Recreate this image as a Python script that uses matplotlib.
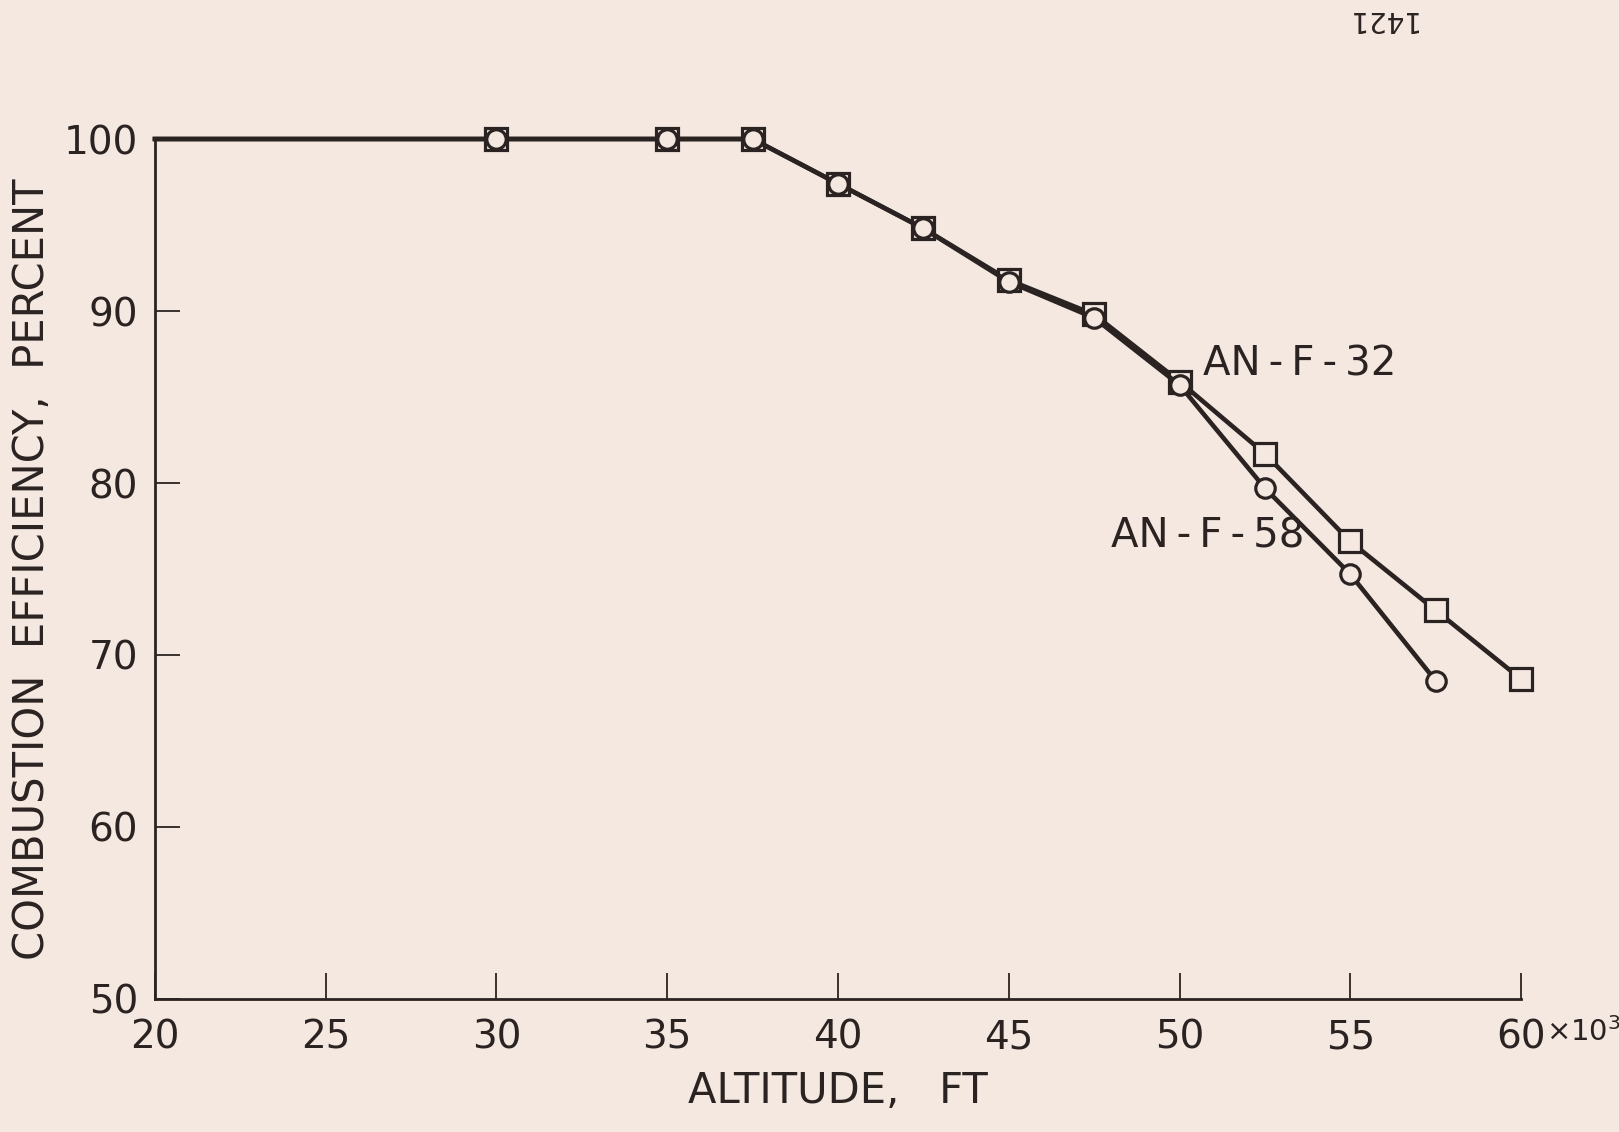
import matplotlib
matplotlib.use("Agg")
import matplotlib.pyplot as plt

# Altitude in thousands of feet
alt_f32 = [20, 30, 35, 37.5, 40, 42.5, 45, 47.5, 50, 52.5, 55, 57.5, 60]
eff_f32 = [100, 100, 100, 100, 97.4, 94.8, 91.8, 89.8, 85.9, 81.7, 76.6, 72.6, 68.6]

alt_f58 = [20, 30, 35, 37.5, 40, 42.5, 45, 47.5, 50, 52.5, 55, 57.5]
eff_f58 = [100, 100, 100, 100, 97.4, 94.8, 91.7, 89.6, 85.7, 79.7, 74.7, 68.5]

x_ticks = [20, 25, 30, 35, 40, 45, 50, 55, 60]
y_ticks = [50, 60, 70, 80, 90, 100]

bg = '#f4e8e1'
ink = '#2b2321'
ts = '\u2009'  # thin space

plt.rcParams['font.family'] = ['DejaVu Sans']

fig = plt.figure(figsize=(16.19, 11.32), dpi=100, facecolor=bg)
ax = fig.add_axes([0.0957, 0.1175, 0.8438, 0.7597])
ax.set_facecolor(bg)

# AN-F-32 (squares), the point at 20 carries no marker
ax.plot(alt_f32, eff_f32, color=ink, lw=3.3, marker='s', markersize=16,
        markerfacecolor=bg, markeredgecolor=ink, markeredgewidth=2.3,
        markevery=list(range(1, len(alt_f32))), clip_on=False, zorder=3)
# AN-F-58 (circles)
ax.plot(alt_f58, eff_f58, color=ink, lw=3.3, marker='o', markersize=14,
        markerfacecolor=bg, markeredgecolor=ink, markeredgewidth=2.3,
        markevery=list(range(1, len(alt_f58))), clip_on=False, zorder=4)

ax.set_xlim(20, 60)
ax.set_ylim(50, 100)
ax.set_xticks(x_ticks)
ax.set_yticks(y_ticks)
ax.set_xticklabels([str(v) for v in x_ticks])
ax.set_yticklabels([str(v) for v in y_ticks])

for s in ['top', 'right']:
    ax.spines[s].set_visible(False)
for s in ['left', 'bottom']:
    ax.spines[s].set_color(ink)
    ax.spines[s].set_linewidth(2.0)

ax.tick_params(axis='x', direction='in', length=19, width=1.3, color=ink,
               labelsize=28, labelcolor=ink, pad=14)
ax.tick_params(axis='y', direction='in', length=18, width=1.3, color=ink,
               labelsize=28, labelcolor=ink, pad=12)

ax.set_xlabel('ALTITUDE,   FT', fontsize=30, color=ink, labelpad=10)
ax.set_ylabel('COMBUSTION  EFFICIENCY,  PERCENT', fontsize=30, color=ink, labelpad=8)

# multiplier next to the last x tick label
ax.annotate('\u00d7' + '10$^3$', xy=(60, 50), xycoords='data',
            xytext=(18, -24), textcoords='offset points',
            fontsize=21, color=ink, ha='left', va='center', annotation_clip=False)

ax.text(50.7, 86.9, 'AN' + ts + '-' + ts + 'F' + ts + '-' + ts + '32', fontsize=29,
        color=ink, ha='left', va='center')
ax.text(48.0, 76.9, 'AN' + ts + '-' + ts + 'F' + ts + '-' + ts + '58', fontsize=29,
        color=ink, ha='left', va='center')

fig.text(0.853, 0.996, '1421', fontsize=20, color=ink, rotation=180,
         ha='center', va='top')

fig.savefig('out.png', dpi=100, facecolor=bg)
